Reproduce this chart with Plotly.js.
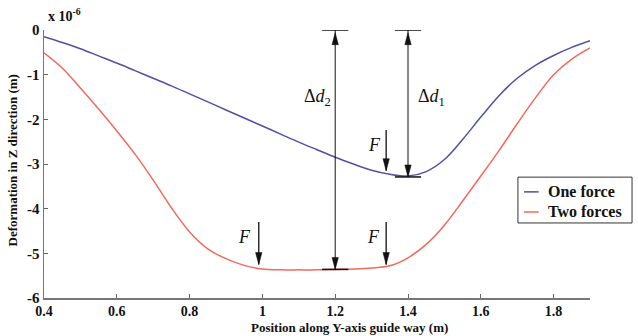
<!DOCTYPE html>
<html>
<head>
<meta charset="utf-8">
<script src="https://cdn.plot.ly/plotly-3.0.1.min.js"></script>
<style>html,body{margin:0;padding:0;background:#fff;}#chart{width:638px;height:336px;}</style>
</head>
<body>
<div id="chart"></div>
<script>
// Position along Y-axis guide way (m)
const positions = [0.4,0.45,0.5,0.55,0.6,0.65,0.7,0.75,0.8,0.85,0.9,0.95,1.0,1.05,1.1,1.15,1.2,1.25,1.3,1.35,1.4,1.45,1.5,1.55,1.6,1.65,1.7,1.75,1.8,1.85,1.9];
// Deformation in Z direction (x 1e-6 m)
const oneForce = [-0.15,-0.28,-0.42,-0.58,-0.74,-0.91,-1.08,-1.25,-1.43,-1.61,-1.79,-1.97,-2.15,-2.33,-2.51,-2.68,-2.85,-3.0,-3.14,-3.23,-3.27,-3.17,-2.9,-2.45,-1.95,-1.47,-1.08,-0.79,-0.57,-0.39,-0.24];
const twoForces = [-0.51,-0.85,-1.3,-1.77,-2.26,-2.78,-3.36,-3.98,-4.52,-4.9,-5.12,-5.27,-5.35,-5.37,-5.37,-5.37,-5.36,-5.35,-5.33,-5.28,-5.1,-4.8,-4.37,-3.83,-3.27,-2.7,-2.1,-1.52,-1.0,-0.65,-0.4];
const seriesNames = ['One force','Two forces'];
const xTicks = [0.4,0.6,0.8,1,1.2,1.4,1.6,1.8];
const xTickText = ['0.4','0.6','0.8','1','1.2','1.4','1.6','1.8'];
const yTicks = [0,-1,-2,-3,-4,-5,-6];
const yTickText = ['0','-1','-2','-3','-4','-5','-6'];
// annotation anchors
const deltaX = [1.2, 1.4];          // Δd2, Δd1 positions
const forceArrowX = [1.34, 0.99, 1.34];
const forceArrowTop = [-2.24, -4.3, -4.3];
const forceArrowTip = [-3.15, -5.25, -5.25];

const serif = 'Liberation Serif';
const ink = '#111';
const blue = '#5050a8';
const red = '#f26a5c';
const colors = [blue, red];

const dd2Bottom = twoForces[positions.indexOf(deltaX[0])];
const dd1Bottom = Math.min(...oneForce) - 0.02;

const shapes = [];
const capHalf = 0.036;
function line(x0,y0,x1,y1,w){shapes.push({type:'line',xref:'x',yref:'y',x0:x0,y0:y0,x1:x1,y1:y1,line:{color:ink,width:w||1}});}
function head(x,y,dir){ // dir: 1 = pointing up, -1 = pointing down
  const L = 12*dir, W = 3.2;
  shapes.push({type:'path',xref:'x',yref:'y',xsizemode:'pixel',ysizemode:'pixel',xanchor:x,yanchor:y,
    path:'M0,0 L'+(-W)+','+(-L)+' L'+W+','+(-L)+' Z',fillcolor:ink,line:{color:ink,width:0.5}});
}
// Δd2
line(deltaX[0],0,deltaX[0],dd2Bottom);
line(deltaX[0]-capHalf,0,deltaX[0]+capHalf,0,1.5);
line(deltaX[0]-capHalf,dd2Bottom,deltaX[0]+capHalf,dd2Bottom,1.5);
head(deltaX[0],-0.06,1); head(deltaX[0],dd2Bottom,-1);
// Δd1
line(deltaX[1],0,deltaX[1],dd1Bottom);
line(deltaX[1]-capHalf,0,deltaX[1]+capHalf,0,1.5);
line(deltaX[1]-capHalf,dd1Bottom,deltaX[1]+capHalf,dd1Bottom,1.5);
head(deltaX[1],-0.06,1); head(deltaX[1],dd1Bottom,-1);
// Force arrows
for(let i=0;i<forceArrowX.length;i++){
  line(forceArrowX[i],forceArrowTop[i],forceArrowX[i],forceArrowTip[i],1.3);
  head(forceArrowX[i],forceArrowTip[i],-1);
}
// Custom legend (box, short line samples)
shapes.push({type:'rect',xref:'paper',yref:'paper',x0:0.868,x1:1.077,y0:0.280,y1:0.451,fillcolor:'#fff',line:{color:'#333',width:1}});
const legendRowY = [0.396, 0.321];
for(let i=0;i<2;i++){
  shapes.push({type:'line',xref:'paper',yref:'paper',x0:0.879,x1:0.906,y0:legendRowY[i],y1:legendRowY[i],line:{color:colors[i],width:1.5}});
}

const italicFont = {family:serif,size:18,color:ink};
const boldFont = (s)=>({family:serif,size:s,color:ink,weight:'bold'});
const annotations = [
  {xref:'paper',yref:'paper',x:0.004,y:1.056,xanchor:'left',yanchor:'middle',showarrow:false,
   text:'x 10<sup>-6</sup>',font:boldFont(14)},
  {xref:'paper',yref:'paper',x:0.56,y:-0.11,xanchor:'center',yanchor:'middle',showarrow:false,
   text:'Position along Y-axis guide way (m)',font:boldFont(13)},
  {xref:'paper',yref:'paper',x:-0.056,y:0.515,xanchor:'center',yanchor:'middle',textangle:-90,showarrow:false,
   text:'Deformation in Z direction (m)',font:boldFont(13)},
  {x:1.15,y:-1.5,showarrow:false,text:'Δ<i>d</i><sub>2</sub>',font:italicFont},
  {x:1.465,y:-1.5,showarrow:false,text:'Δ<i>d</i><sub>1</sub>',font:italicFont},
  {x:1.307,y:-2.57,showarrow:false,text:'<i>F</i>',font:italicFont},
  {x:0.95,y:-4.63,showarrow:false,text:'<i>F</i>',font:italicFont},
  {x:1.304,y:-4.63,showarrow:false,text:'<i>F</i>',font:italicFont}
];
for(let i=0;i<2;i++){
  annotations.push({xref:'paper',yref:'paper',x:0.92,y:legendRowY[i],xanchor:'left',yanchor:'middle',showarrow:false,
    text:seriesNames[i],font:boldFont(16)});
}

const traces = [
  {x:positions,y:oneForce,name:seriesNames[0],type:'scatter',mode:'lines',line:{color:blue,width:1.5,shape:'spline',smoothing:1}},
  {x:positions,y:twoForces,name:seriesNames[1],type:'scatter',mode:'lines',line:{color:red,width:1.5,shape:'spline',smoothing:1}}
];

const layout = {
  width:638,height:336,
  margin:{l:44,r:48,t:30,b:38},
  paper_bgcolor:'#fff',plot_bgcolor:'#fff',
  font:{family:serif,color:ink},
  showlegend:false,
  xaxis:{range:[0.4,1.9],tickvals:xTicks,ticktext:xTickText,ticks:'inside',ticklen:4,tickcolor:'#666',
    showline:true,linecolor:'#777',linewidth:1.5,showgrid:false,zeroline:false,mirror:false,
    tickfont:boldFont(14)},
  yaxis:{range:[-6,0],tickvals:yTicks,ticktext:yTickText,ticks:'inside',ticklen:4,tickcolor:'#666',
    showline:true,linecolor:'#777',linewidth:1.5,showgrid:false,zeroline:false,mirror:false,
    tickfont:boldFont(15)},
  shapes:shapes,
  annotations:annotations
};
Plotly.newPlot('chart',traces,layout,{displayModeBar:false,staticPlot:true});
</script>
</body>
</html>
